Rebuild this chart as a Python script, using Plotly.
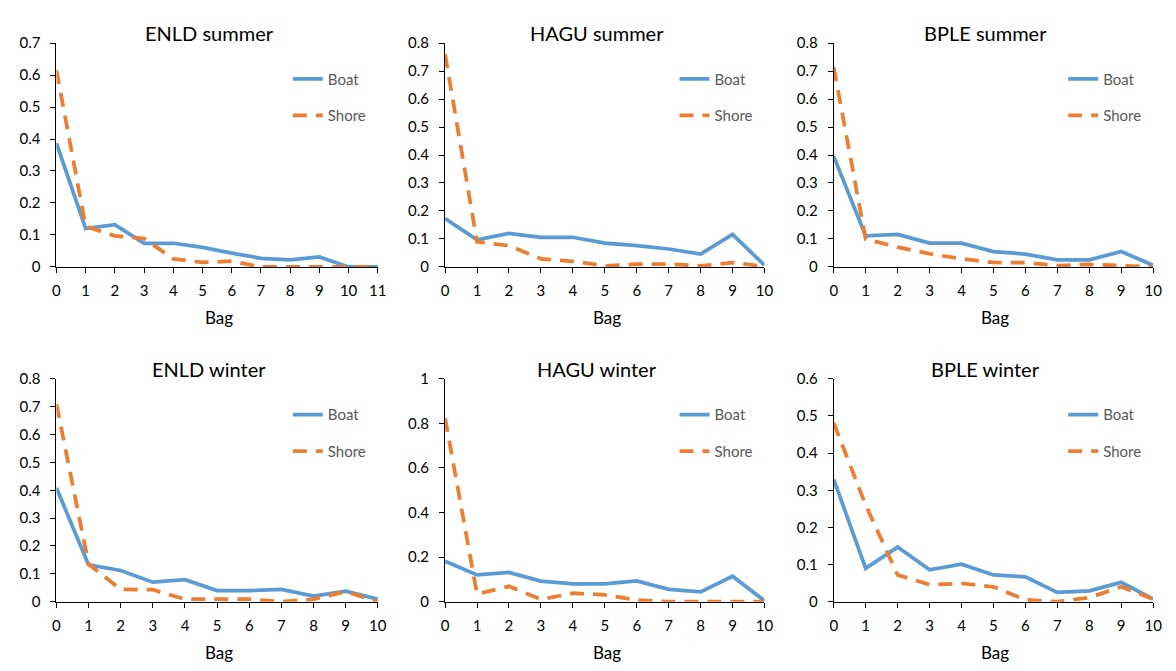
import plotly.graph_objects as go

titles = ["ENLD summer", "HAGU summer", "BPLE summer", "ENLD winter", "HAGU winter", "BPLE winter"]

bags_enld_summer = list(range(12))
bags_other = list(range(11))

boat_enld_summer = [0.387, 0.12, 0.132, 0.074, 0.074, 0.061, 0.043, 0.027, 0.022, 0.031, 0.0, 0.0]
shore_enld_summer = [0.615, 0.127, 0.097, 0.089, 0.025, 0.014, 0.018, 0.0, 0.0, 0.0, 0.0, 0.0]

boat_hagu_summer = [0.173, 0.097, 0.12, 0.106, 0.106, 0.085, 0.076, 0.064, 0.046, 0.116, 0.006]
shore_hagu_summer = [0.76, 0.09, 0.076, 0.029, 0.02, 0.004, 0.01, 0.01, 0.004, 0.015, 0.002]

boat_bple_summer = [0.395, 0.111, 0.116, 0.085, 0.085, 0.055, 0.046, 0.025, 0.025, 0.055, 0.006]
shore_bple_summer = [0.713, 0.099, 0.071, 0.047, 0.029, 0.016, 0.015, 0.005, 0.009, 0.006, 0.0]

boat_enld_winter = [0.409, 0.132, 0.112, 0.07, 0.079, 0.04, 0.04, 0.044, 0.02, 0.038, 0.009]
shore_enld_winter = [0.709, 0.135, 0.044, 0.043, 0.009, 0.009, 0.009, 0.0, 0.009, 0.036, 0.0]

boat_hagu_winter = [0.182, 0.12, 0.131, 0.092, 0.08, 0.08, 0.093, 0.055, 0.044, 0.114, 0.004]
shore_hagu_winter = [0.824, 0.034, 0.069, 0.01, 0.038, 0.031, 0.007, 0.0, 0.0, 0.0, 0.0]

boat_bple_winter = [0.329, 0.09, 0.147, 0.086, 0.101, 0.072, 0.067, 0.025, 0.029, 0.052, 0.007]
shore_bple_winter = [0.481, 0.26, 0.072, 0.046, 0.049, 0.04, 0.005, 0.0, 0.011, 0.04, 0.007]

xs = [bags_enld_summer, bags_other, bags_other, bags_other, bags_other, bags_other]
boats = [boat_enld_summer, boat_hagu_summer, boat_bple_summer, boat_enld_winter, boat_hagu_winter, boat_bple_winter]
shores = [shore_enld_summer, shore_hagu_summer, shore_bple_summer, shore_enld_winter, shore_hagu_winter, shore_bple_winter]
y_max = [0.7, 0.8, 0.8, 0.8, 1.0, 0.6]
y_step = [0.1, 0.1, 0.1, 0.1, 0.2, 0.1]
x_max = [11, 10, 10, 10, 10, 10]

W, H = 1176, 671
FONT = "Lato, Carlito, Calibri, sans-serif"
BLUE = "#5B9BD5"
ORANGE = "#ED7D31"


def px(x):
    return x / W


def py(y):
    return 1 - y / H


# pixel geometry of plot areas
cols = [(53, 378), (446, 769), (839, 1162)]
rows = [(34, 264), (379, 608)]

fig = go.Figure()
layout = dict(
    width=W, height=H,
    margin=dict(l=0, r=0, t=0, b=0),
    paper_bgcolor="white", plot_bgcolor="white",
    font=dict(family=FONT, size=15, color="black"),
    annotations=[],
)

for i in range(6):
    r, c = divmod(i, 3)
    left, right = cols[c]
    top, bottom = rows[r]
    xa = "xaxis" if i == 0 else f"xaxis{i+1}"
    ya = "yaxis" if i == 0 else f"yaxis{i+1}"
    xref = "x" if i == 0 else f"x{i+1}"
    yref = "y" if i == 0 else f"y{i+1}"
    leg = "legend" if i == 0 else f"legend{i+1}"

    fig.add_trace(go.Scatter(x=xs[i], y=boats[i], mode="lines", name="Boat",
                             line=dict(color=BLUE, width=3.75), xaxis=xref, yaxis=yref,
                             legend=leg, legendgroup=f"b{i}"))
    fig.add_trace(go.Scatter(x=xs[i], y=shores[i], mode="lines", name="Shore",
                             line=dict(color=ORANGE, width=3.75, dash="14px,9px"),
                             xaxis=xref, yaxis=yref, legend=leg, legendgroup=f"s{i}"))

    layout[xa] = dict(
        domain=[px(left), px(right)], anchor=yref, range=[0, x_max[i]],
        tickmode="linear", tick0=0, dtick=1, ticks="outside", ticklen=5,
        tickcolor="black", showline=True, linecolor="black", linewidth=1,
        showgrid=False, zeroline=False, tickfont=dict(size=15, color="black"),
        ticklabelstandoff=5, fixedrange=True,
    )
    layout[ya] = dict(
        domain=[py(bottom), py(top)], anchor=xref, range=[0, y_max[i]],
        tickmode="linear", tick0=0, dtick=y_step[i], ticks="outside", ticklen=5,
        tickcolor="black", showline=True, linecolor="black", linewidth=1,
        showgrid=False, zeroline=False, tickfont=dict(size=15, color="black"),
        ticklabelstandoff=7, fixedrange=True,
    )
    layout[leg] = dict(
        x=px(right - 91), y=py(top + 20), xanchor="left", yanchor="top",
        bgcolor="rgba(0,0,0,0)", font=dict(size=15, color="#595959", family=FONT),
        tracegroupgap=14, itemwidth=30,
    )
    cx = (left + right) / 2
    layout["annotations"].append(dict(
        text=titles[i], x=px(cx - 8), y=py(top - 10), xref="paper", yref="paper",
        showarrow=False, xanchor="center", yanchor="middle",
        font=dict(size=20, color="black", family=FONT)))
    layout["annotations"].append(dict(
        text="Bag", x=px(cx + 2), y=py(bottom + 52), xref="paper", yref="paper",
        showarrow=False, xanchor="center", yanchor="middle",
        font=dict(size=17, color="black", family=FONT)))

fig.update_layout(**layout)
fig.write_html("out.html")
